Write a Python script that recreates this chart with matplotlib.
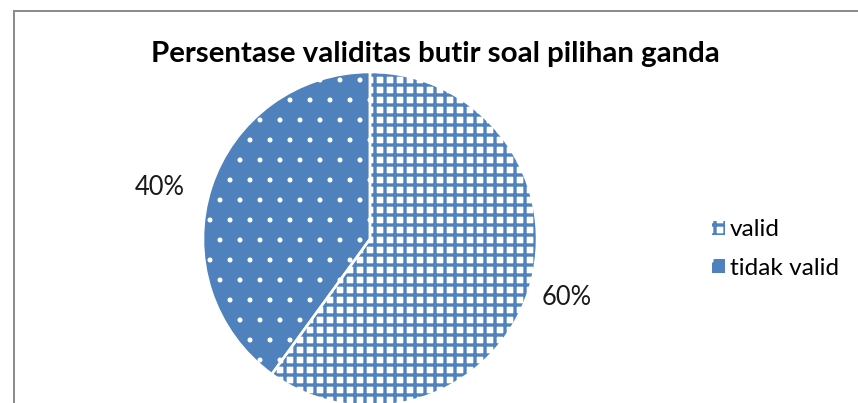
import matplotlib
matplotlib.use("Agg")
import matplotlib.pyplot as plt
import matplotlib.patches as mpatches

# data
categories = ["valid", "tidak valid"]
values = [60, 40]
title = "Persentase validitas butir soal pilihan ganda"

BLUE = "#4F81BD"
face_colors = ["white", BLUE]
hatch_colors = [BLUE, "white"]
hatches = ["++", "."]
hatch_widths = [2.0, 0.6]

plt.rcParams["font.family"] = ["Lato", "DejaVu Sans"]
plt.rcParams["hatch.linewidth"] = 2.0

fig = plt.figure(figsize=(858 / 120, 403 / 120), dpi=120)

# outer chart frame (cut off at right and bottom like the reference)
frame = mpatches.Rectangle((13.5 / 858, -0.1), 1.2, 0.1 + (403 - 11) / 403,
                           transform=fig.transFigure, fill=False,
                           edgecolor="#8c8c8c", linewidth=1.2)
fig.patches.append(frame)

# pie axes: center (370, 239) px, radius 167 px
cx, cy, r = 370 / 858, (403 - 239) / 403, 167
w, h = 2 * r / 858, 2 * r / 403
ax = fig.add_axes([cx - w / 2, cy - h / 2, w, h])

wedges, _ = ax.pie(values, startangle=90, counterclock=False,
                   colors=face_colors, radius=1)
for wedge, hatch, hc, hw in zip(wedges, hatches, hatch_colors, hatch_widths):
    wedge.set_hatch(hatch)
    wedge.set_edgecolor(hc)
    wedge.set_linewidth(0)
    wedge.set_clip_on(False)
    if hasattr(wedge, "set_hatch_linewidth"):
        wedge.set_hatch_linewidth(hw)

outline, _, pcts = ax.pie(values, startangle=90, counterclock=False,
                          radius=1, autopct="%1.0f%%", pctdistance=1.25,
                          wedgeprops=dict(fill=False, edgecolor="white",
                                          linewidth=1.5),
                          textprops=dict(fontsize=15.3, color="#1a1a1a"))
for o in outline:
    o.set_clip_on(False)

# label placement as in the reference (best fit)
pcts[0].set_position((1.18, -0.35))
pcts[1].set_position((-1.26, 0.31))

ax.set_xlim(-1, 1)
ax.set_ylim(-1, 1)
ax.set_aspect("equal")
ax.axis("off")

fig.text((13.5 + 858) / 2 / 858, 1 - 54 / 403, title, ha="center",
         va="center", fontsize=17.7, fontweight="bold", color="black")

handles = [mpatches.Patch(facecolor=fc, hatch=hh, edgecolor=hc, linewidth=0)
           for fc, hh, hc in zip(face_colors, hatches, hatch_colors)]
fig.legend(handles, categories, loc="center left",
           bbox_to_anchor=(690 / 858, 1 - 249 / 403), frameon=False,
           fontsize=14.6, handlelength=0.55, handleheight=0.55,
           handletextpad=0.2, labelspacing=0.7)

fig.savefig("out.png", dpi=120)
